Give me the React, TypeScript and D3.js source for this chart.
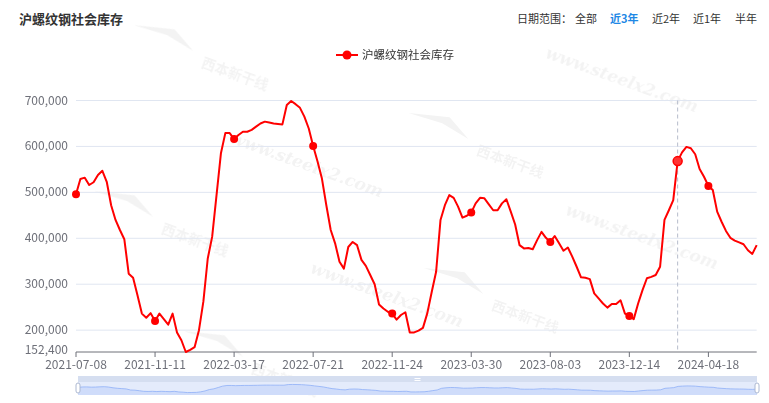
import React from "react";
import * as d3 from "d3";

const TITLE = "沪螺纹钢社会库存";
const SERIES_NAME = "沪螺纹钢社会库存";
const RANGE_LABEL = "日期范围：";
const RANGE_OPTIONS = ["全部", "近3年", "近2年", "近1年", "半年"];
const ACTIVE_RANGE = "近3年";

// weekly (Thursday) dates starting 2021-07-08; the National Day week of 2023 is missing
const START_DATE = "2021-07-08";
const SKIPPED_DATES = ["2023-10-05"];
const WEEK_COUNT = 156;

// inventory, tons
const values = [
  496000, 529000, 532000, 516000, 522000, 538000, 547000, 523000, 472000, 440000,
  418000, 398000, 323000, 314000, 276000, 236000, 227000, 237000, 220000, 236000,
  224000, 212000, 236000, 195000, 178000, 152400, 157000, 163000, 200000, 262000,
  356000, 403000, 494000, 585000, 629000, 629000, 616000, 625000, 632000, 632000,
  636000, 643000, 650000, 654000, 652000, 650000, 649000, 648000, 690000, 699000,
  692000, 684000, 665000, 639000, 601000, 567000, 530000, 472000, 418000, 389000,
  349000, 334000, 381000, 392000, 385000, 353000, 340000, 320000, 300000, 256000,
  247000, 240000, 236000, 223000, 233000, 239000, 195000, 195000, 199000, 205000,
  237000, 283000, 327000, 440000, 472000, 494000, 488000, 469000, 445000, 449000,
  456000, 476000, 488000, 487000, 474000, 461000, 461000, 476000, 485000, 458000,
  430000, 385000, 378000, 379000, 376000, 396000, 414000, 401000, 392000, 405000,
  389000, 373000, 380000, 360000, 338000, 315000, 314000, 311000, 280000, 269000,
  258000, 249000, 257000, 257000, 265000, 236000, 231000, 224000, 258000, 287000,
  313000, 316000, 320000, 338000, 440000, 461000, 483000, 568000, 587000, 599000,
  596000, 583000, 551000, 534000, 514000, 505000, 458000, 436000, 416000, 401000,
  395000, 391000, 387000, 374000, 366000, 385000,
];

const yTicks = [200000, 300000, 400000, 500000, 600000, 700000];
const Y_MIN = 152400;
const Y_MAX = 700000;
const LABEL_INTERVAL = 18;
const HOVER_DATE = "2024-02-29";

function buildDates(): string[] {
  const out: string[] = [];
  const d = new Date(START_DATE + "T00:00:00Z");
  while (out.length < WEEK_COUNT) {
    const s = d.toISOString().slice(0, 10);
    if (!SKIPPED_DATES.includes(s)) out.push(s);
    d.setUTCDate(d.getUTCDate() + 7);
  }
  return out;
}
const dates = buildDates();

const FONT = "'Noto Sans CJK SC', 'Noto Sans', sans-serif";
const AXIS_COLOR = "#6E7079";
const GRID_COLOR = "#E0E6F1";
const RED = "#FF0000";

const W = 769;
const H = 403;
const PLOT = { left: 76, right: 756.7, top: 100.5, bottom: 352 };
const SLIDER = { left: 78, right: 757, top: 376, bottom: 395 };

const watermarksText = [
  { x: 620, y: 85 },
  { x: 305, y: 170 },
  { x: 640, y: 242 },
  { x: 385, y: 300 },
];
const watermarksLogo = [
  { x: 200, y: 62 },
  { x: 160, y: 228 },
  { x: 475, y: 150 },
  { x: 490, y: 305 },
  { x: 250, y: 368 },
];

export default function App() {
  const x = d3.scalePoint<string>().domain(dates).range([PLOT.left, PLOT.right]);
  const y = d3.scaleLinear().domain([Y_MIN, Y_MAX]).range([PLOT.bottom, PLOT.top]);

  const line = d3
    .line<number>()
    .x((_, i) => x(dates[i]) as number)
    .y((v) => y(v));

  const labelIdx = dates.map((_, i) => i).filter((i) => i % LABEL_INTERVAL === 0);

  // slider data shadow
  const sx = d3.scalePoint<string>().domain(dates).range([SLIDER.left, SLIDER.right]);
  const ext = d3.extent(values) as [number, number];
  const pad = (ext[1] - ext[0]) * 0.3;
  const sy = d3
    .scaleLinear()
    .domain([ext[0] - pad, ext[1] + pad])
    .range([SLIDER.bottom, SLIDER.top + 6]);
  const shadowLine = d3
    .line<number>()
    .x((_, i) => sx(dates[i]) as number)
    .y((v) => sy(v));
  const shadowArea = d3
    .area<number>()
    .x((_, i) => sx(dates[i]) as number)
    .y0(SLIDER.bottom)
    .y1((v) => sy(v));

  const hoverIdx = dates.indexOf(HOVER_DATE);

  // top right menu layout
  const menuX = [517, 575, 610, 652, 693, 735];

  return (
    <svg
      width={W}
      height={H}
      style={{ position: "absolute", left: 0, top: 0, background: "#fff" }}
      fontFamily={FONT}
    >
      {/* title */}
      <text x={19} y={24} fontSize={13} fontWeight="bold" fill="#333">
        {TITLE}
      </text>

      {/* range menu */}
      <text x={menuX[0]} y={23} fontSize={11} fill="#333">
        {RANGE_LABEL}
      </text>
      {RANGE_OPTIONS.map((o, i) => (
        <text
          key={o}
          x={menuX[i + 1]}
          y={23}
          fontSize={11}
          fill={o === ACTIVE_RANGE ? "#1E88E5" : "#333"}
          fontWeight={o === ACTIVE_RANGE ? "bold" : "normal"}
        >
          {o}
        </text>
      ))}

      {/* watermarks */}
      <g fill="#000" opacity={0.05}>
        {watermarksText.map((w, i) => (
          <text
            key={"t" + i}
            x={w.x}
            y={w.y}
            fontSize={17}
            fontStyle="italic"
            fontWeight="bold"
            fontFamily="'DejaVu Serif', serif"
            textAnchor="middle"
            transform={`rotate(20 ${w.x} ${w.y})`}
          >
            www.steelx2.com
          </text>
        ))}
        {watermarksLogo.map((w, i) => (
          <g key={"l" + i} transform={`rotate(20 ${w.x} ${w.y})`}>
            <path
              d={`M${w.x - 75},${w.y - 12} L${w.x - 35},${w.y - 22} L${w.x - 10},${w.y - 8} L${w.x - 40},${w.y - 14} Z`}
            />
            <text x={w.x + 2} y={w.y + 4} fontSize={14} fontWeight="bold">
              西本新干线
            </text>
          </g>
        ))}
      </g>

      {/* legend */}
      <g>
        <line x1={336} x2={358} y1={55} y2={55} stroke={RED} strokeWidth={2} />
        <circle cx={347} cy={55} r={4.5} fill={RED} />
        <text x={362} y={59} fontSize={11.5} fill="#333">
          {SERIES_NAME}
        </text>
      </g>

      {/* grid */}
      {yTicks.map((t) => (
        <line
          key={t}
          x1={PLOT.left}
          x2={PLOT.right}
          y1={y(t)}
          y2={y(t)}
          stroke={GRID_COLOR}
          strokeWidth={1}
        />
      ))}

      {/* y labels */}
      {[Y_MIN, ...yTicks].map((t) => (
        <text
          key={"yl" + t}
          x={68}
          y={y(t) + (t === Y_MIN ? 2 : 4)}
          fontSize={12}
          fill={AXIS_COLOR}
          textAnchor="end"
        >
          {d3.format(",")(t)}
        </text>
      ))}

      {/* x axis */}
      <line
        x1={PLOT.left}
        x2={PLOT.right}
        y1={PLOT.bottom}
        y2={PLOT.bottom}
        stroke={AXIS_COLOR}
        strokeWidth={1}
      />
      {labelIdx.map((i) => (
        <g key={"xt" + i}>
          <line
            x1={x(dates[i])}
            x2={x(dates[i])}
            y1={PLOT.bottom}
            y2={PLOT.bottom + 5}
            stroke={AXIS_COLOR}
          />
          <text
            x={x(dates[i])}
            y={369}
            fontSize={12}
            fill={AXIS_COLOR}
            textAnchor="middle"
          >
            {dates[i]}
          </text>
        </g>
      ))}

      {/* hover pointer */}
      {hoverIdx >= 0 && (
        <line
          x1={x(dates[hoverIdx])}
          x2={x(dates[hoverIdx])}
          y1={PLOT.top}
          y2={PLOT.bottom}
          stroke="#B6BCCB"
          strokeDasharray="4 3"
          strokeWidth={1}
        />
      )}

      {/* series */}
      <path d={line(values) || ""} fill="none" stroke={RED} strokeWidth={2} strokeLinejoin="round" />
      {labelIdx.map((i) => (
        <circle key={"p" + i} cx={x(dates[i])} cy={y(values[i])} r={4} fill={RED} />
      ))}
      {hoverIdx >= 0 && (
        <circle
          cx={x(dates[hoverIdx])}
          cy={y(values[hoverIdx])}
          r={4.5}
          fill="#FF3333"
          stroke={RED}
          strokeWidth={1.5}
        />
      )}

      {/* data zoom slider */}
      <g>
        <rect
          x={SLIDER.left}
          y={SLIDER.top}
          width={SLIDER.right - SLIDER.left}
          height={SLIDER.bottom - SLIDER.top}
          fill="#E4EBFB"
        />
        <rect
          x={SLIDER.left}
          y={SLIDER.top}
          width={SLIDER.right - SLIDER.left}
          height={6}
          fill="#D5DEF0"
        />
        <path d={shadowArea(values) || ""} fill="#8FB0F7" opacity={0.25} />
        <path d={shadowLine(values) || ""} fill="none" stroke="#8FB0F7" strokeWidth={0.8} />
        <rect x={(SLIDER.left + SLIDER.right) / 2 - 3} y={SLIDER.top + 2} width={6} height={1} fill="#fff" />
        <rect x={(SLIDER.left + SLIDER.right) / 2 - 3} y={SLIDER.top + 4} width={6} height={1} fill="#fff" />
        <rect
          x={SLIDER.left - 2}
          y={SLIDER.top + 7}
          width={4}
          height={10}
          rx={2}
          fill="#fff"
          stroke="#ACB8D1"
          strokeWidth={1}
        />
        <rect
          x={SLIDER.right - 2}
          y={SLIDER.top + 7}
          width={4}
          height={10}
          rx={2}
          fill="#fff"
          stroke="#ACB8D1"
          strokeWidth={1}
        />
      </g>
    </svg>
  );
}
